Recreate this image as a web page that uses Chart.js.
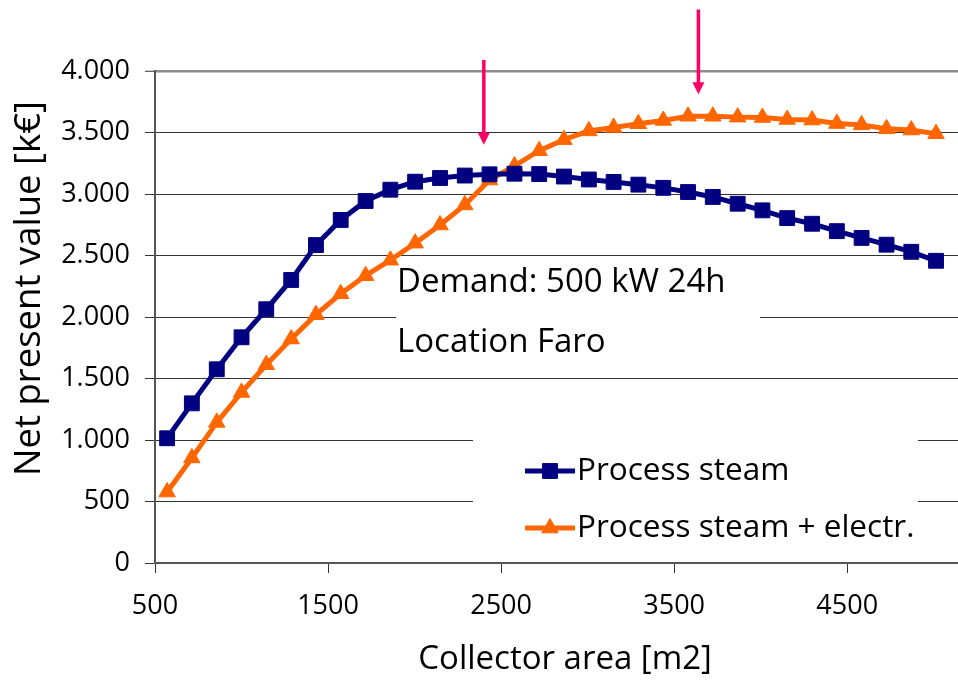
<!DOCTYPE html>
<html>
<head>
<meta charset="utf-8">
<script src="https://cdn.jsdelivr.net/npm/chart.js@4.4.0/dist/chart.umd.min.js"></script>
<style>
    html, body { margin: 0; padding: 0; background: #fff; overflow: hidden; }
    #wrap { width: 958px; height: 680px; position: relative; }
    canvas { display: block; }
</style>
</head>
<body>
<div id="wrap"><canvas id="npv-chart"></canvas></div>
<script>
// Collector area [m2] of each simulated field size
const collectorArea = [570, 713, 857, 1000, 1143, 1287, 1430, 1573, 1717, 1860, 2003, 2147, 2290, 2433, 2577, 2720,
                       2863, 3007, 3150, 3293, 3437, 3580, 3723, 3867, 4010, 4153, 4297, 4440, 4583, 4727, 4870, 5013];

// Net present value [k€]
const processSteam = [1014, 1298, 1575, 1835, 2063, 2301, 2585, 2789, 2943, 3035, 3100, 3130, 3150, 3160, 3165, 3162,
                      3142, 3118, 3098, 3076, 3050, 3016, 2976, 2921, 2867, 2804, 2758, 2698, 2643, 2588, 2530, 2457];
const steamElectr  = [577, 854, 1143, 1387, 1612, 1821, 2019, 2189, 2336, 2462, 2600, 2748, 2911, 3114, 3228, 3352,
                      3442, 3513, 3541, 3571, 3598, 3632, 3632, 3625, 3622, 3606, 3601, 3573, 3562, 3530, 3520, 3490];

const seriesLabels = ["Process steam", "Process steam + electr."];
const xTicks = [500, 1500, 2500, 3500, 4500];
const noteLines = ["Demand: 500 kW 24h", "Location Faro"];

// Pfeile (optimum markers), in axis units
const arrowX    = [2400, 3640];
const arrowFrom = [4090, 4500];
const arrowTo   = [3400, 3810];

const FONT = "'Open Sans', 'Noto Sans', sans-serif";
const BLUE = "#000080";
const ORANGE = "#FF6600";

function fmtThousands(v) {
    return String(v).replace(/\B(?=(\d{3})+(?!\d))/g, ".");
}

const overlayPlugin = {
    id: "overlay",
    beforeDatasetsDraw(chart) {
        // white boxes behind the note and the legend (they hide the grid)
        const ctx = chart.ctx;
        ctx.save();
        ctx.fillStyle = "#fff";
        ctx.fillRect(396, 262, 364, 104);
        ctx.fillRect(473, 418, 445, 134);
        ctx.restore();
    },
    afterDraw(chart) {
        const ctx = chart.ctx;
        const xs = chart.scales.x;
        const ys = chart.scales.y;
        ctx.save();

        // Notiz
        ctx.fillStyle = "#000";
        ctx.font = "33px " + FONT;
        ctx.textAlign = "left";
        ctx.textBaseline = "alphabetic";
        ctx.fillText(noteLines[0], 397, 292);
        ctx.fillText(noteLines[1], 397, 352);

        // Legende
        const rowY = [471, 528];
        chart.data.datasets.forEach((ds, i) => {
            ctx.strokeStyle = ds.borderColor;
            ctx.lineWidth = 5;
            ctx.beginPath();
            ctx.moveTo(525, rowY[i]);
            ctx.lineTo(575, rowY[i]);
            ctx.stroke();
            ctx.fillStyle = ds.pointBackgroundColor;
            ctx.strokeStyle = ds.pointBorderColor;
            ctx.lineWidth = 1;
            Chart.helpers.drawPoint(ctx, {
                pointStyle: ds.pointStyle,
                radius: ds.pointRadius,
                rotation: 0,
                borderWidth: 1
            }, 550, rowY[i]);
            ctx.fillStyle = "#000";
            ctx.font = "31.5px " + FONT;
            ctx.textBaseline = "middle";
            ctx.fillText(ds.label, 577, rowY[i]);
        });

        // Pfeile
        ctx.strokeStyle = "#FF0066";
        ctx.fillStyle = "#FF0066";
        ctx.lineWidth = 3.5;
        for (let i = 0; i < arrowX.length; i++) {
            const px = xs.getPixelForValue(arrowX[i]);
            const y1 = ys.getPixelForValue(arrowFrom[i]);
            const y2 = ys.getPixelForValue(arrowTo[i]);
            ctx.beginPath();
            ctx.moveTo(px, y1);
            ctx.lineTo(px, y2 - 10);
            ctx.stroke();
            ctx.beginPath();
            ctx.moveTo(px - 6, y2 - 12);
            ctx.lineTo(px + 6, y2 - 12);
            ctx.lineTo(px, y2);
            ctx.closePath();
            ctx.fill();
        }
        ctx.restore();
    }
};

const ctx = document.getElementById("npv-chart").getContext("2d");

new Chart(ctx, {
    type: "line",
    data: {
        datasets: [
            {
                label: seriesLabels[0],
                data: collectorArea.map((a, i) => ({ x: a, y: processSteam[i] })),
                borderColor: BLUE,
                backgroundColor: BLUE,
                pointBackgroundColor: BLUE,
                pointBorderColor: BLUE,
                borderWidth: 5,
                pointStyle: "rect",
                pointRadius: 10.5,
                pointBorderWidth: 1,
                tension: 0
            },
            {
                label: seriesLabels[1],
                data: collectorArea.map((a, i) => ({ x: a, y: steamElectr[i] })),
                borderColor: ORANGE,
                backgroundColor: ORANGE,
                pointBackgroundColor: ORANGE,
                pointBorderColor: ORANGE,
                borderWidth: 5,
                pointStyle: "triangle",
                pointRadius: 9.5,
                pointBorderWidth: 1,
                tension: 0
            }
        ]
    },
    options: {
        responsive: true,
        maintainAspectRatio: false,
        animation: false,
        layout: { autoPadding: false, padding: { top: 71, right: 0, left: 0, bottom: 0 } },
        plugins: {
            legend: { display: false },
            tooltip: { enabled: false }
        },
        scales: {
            x: {
                type: "linear",
                min: 500,
                max: 5140,
                afterBuildTicks: (scale) => {
                    scale.ticks = xTicks.map(v => ({ value: v }));
                },
                afterFit: (scale) => { scale.height = 117; },
                grid: {
                    drawOnChartArea: false,
                    drawTicks: true,
                    tickLength: 10,
                    color: "#333",
                    lineWidth: 1
                },
                border: { color: "#555", width: 2 },
                ticks: {
                    color: "#000",
                    font: { family: FONT, size: 27 },
                    padding: 17,
                    maxRotation: 0,
                    callback: (v) => String(v)
                },
                title: {
                    display: true,
                    text: "  Collector area [m2]",
                    color: "#000",
                    font: { family: FONT, size: 33 },
                    padding: { top: 0, bottom: 1 }
                }
            },
            y: {
                min: 0,
                max: 4000,
                afterFit: (scale) => { scale.width = 155; },
                grid: {
                    color: (c) => (c.tick && c.tick.value === 4000 ? "#8c8c8c" : "#333"),
                    lineWidth: (c) => (c.tick && c.tick.value === 4000 ? 2.5 : 1),
                    tickColor: "#333",
                    tickWidth: 1,
                    tickLength: 10,
                    drawTicks: true
                },
                border: { color: "#555", width: 2 },
                ticks: {
                    stepSize: 500,
                    color: "#000",
                    font: { family: FONT, size: 27 },
                    padding: 15,
                    callback: (v) => fmtThousands(v)
                },
                title: {
                    display: true,
                    text: "      Net present value [k€]",
                    color: "#000",
                    font: { family: FONT, size: 36.5 },
                    padding: { top: 8, bottom: 0 }
                }
            }
        }
    },
    plugins: [overlayPlugin]
});
</script>
</body>
</html>
